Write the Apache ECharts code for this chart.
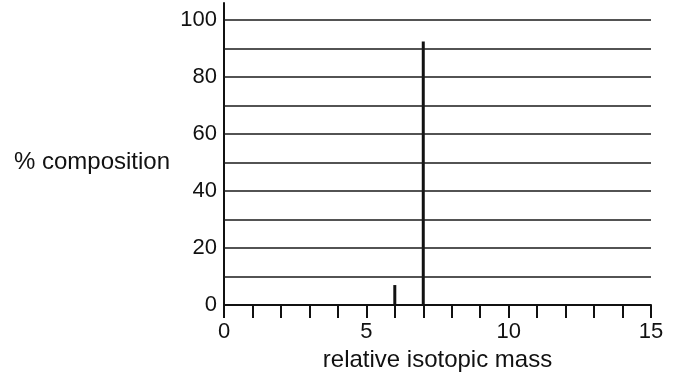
<!DOCTYPE html>
<html>
<head>
<meta charset="utf-8">
<script src="https://cdn.jsdelivr.net/npm/echarts@6/dist/echarts.min.js"></script>
<style>html,body{margin:0;padding:0;background:#fff}#c{width:674px;height:374px}</style>
</head>
<body>
<div id="c"></div>
<script>
const masses = [6, 7];
const percents = [7, 92.5];
const yGridValues = [10, 20, 30, 40, 50, 60, 70, 80, 90, 100];
const yLabelValues = [0, 20, 40, 60, 80, 100];
const xLabelValues = [0, 5, 10, 15];

const chart = echarts.init(document.getElementById('c'), null, {renderer: 'canvas'});
const font = '"Liberation Sans", Arial, sans-serif';
chart.setOption({
  animation: false,
  backgroundColor: '#fff',
  grid: {left: 224, right: 23, top: 3, bottom: 69, containLabel: false, outerBoundsMode: 'none'},
  xAxis: {
    type: 'value', min: 0, max: 15, interval: 1,
    name: 'relative isotopic mass', nameLocation: 'middle', nameGap: 41,
    nameTextStyle: {fontFamily: font, fontSize: 24, color: '#111'},
    axisLine: {show: true, lineStyle: {color: '#111', width: 2}},
    axisTick: {show: true, inside: false, length: 13, lineStyle: {color: '#111', width: 2}},
    axisLabel: {
      margin: 16, fontFamily: font, fontSize: 22, color: '#111',
      showMaxLabel: true, showMinLabel: true,
      formatter: v => xLabelValues.includes(v) ? String(v) : ''
    },
    splitLine: {show: false}
  },
  yAxis: {
    type: 'value', min: 0, max: 106, interval: 10,
    name: '% composition', nameLocation: 'middle', nameGap: 54, nameRotate: 0,
    nameTextStyle: {fontFamily: font, fontSize: 24, color: '#111', align: 'right', verticalAlign: 'top', lineHeight: 16},
    axisLine: {show: true, lineStyle: {color: '#111', width: 2}},
    axisTick: {show: false},
    axisLabel: {
      margin: 7, fontFamily: font, fontSize: 22, color: '#111',
      formatter: v => yLabelValues.includes(v) ? String(v) : ''
    },
    splitLine: {show: false}
  },
  series: [{
    type: 'bar',
    barWidth: 3,
    itemStyle: {color: '#111'},
    data: masses.map((m, i) => [m, percents[i]]),
    markLine: {
      silent: true,
      symbol: ['none', 'none'],
      label: {show: false},
      lineStyle: {color: '#1a1a1a', width: 1.6, type: 'solid'},
      data: yGridValues.map(v => ({yAxis: v}))
    }
  }]
});
</script>
</body>
</html>
